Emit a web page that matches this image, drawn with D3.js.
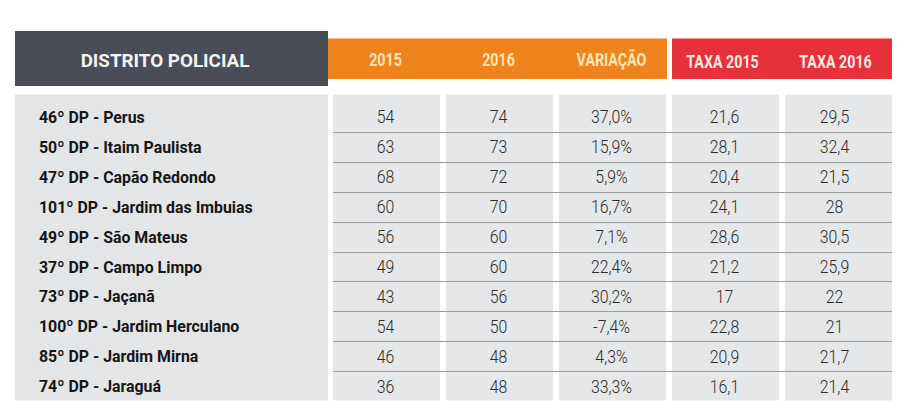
<!DOCTYPE html>
<html>
<head>
<meta charset="utf-8">
<script src="https://cdn.jsdelivr.net/npm/d3@7"></script>
<style>
  html, body { margin: 0; padding: 0; background: #fff; }
  svg { display: block; }
</style>
</head>
<body>
<svg id="chart" width="911" height="409"></svg>
<script>
// ---------- DATA ----------
const districts = [
  "46º DP - Perus",
  "50º DP - Itaim Paulista",
  "47º DP - Capão Redondo",
  "101º DP - Jardim das Imbuias",
  "49º DP - São Mateus",
  "37º DP - Campo Limpo",
  "73º DP - Jaçanã",
  "100º DP - Jardim Herculano",
  "85º DP - Jardim Mirna",
  "74º DP - Jaraguá"
];
const values2015 = [54, 63, 68, 60, 56, 49, 43, 54, 46, 36];
const values2016 = [74, 73, 72, 70, 60, 60, 56, 50, 48, 48];
const variacao   = [37.0, 15.9, 5.9, 16.7, 7.1, 22.4, 30.2, -7.4, 4.3, 33.3];
const taxa2015   = [21.6, 28.1, 20.4, 24.1, 28.6, 21.2, 17, 22.8, 20.9, 16.1];
const taxa2016   = [29.5, 32.4, 21.5, 28, 30.5, 25.9, 22, 21, 21.7, 21.4];
const firstHeader = "DISTRITO POLICIAL";
const columnHeaders = ["2015", "2016", "VARIAÇÃO", "TAXA 2015", "TAXA 2016"];
const columnGroups  = ["orange", "orange", "orange", "red", "red"];

// ---------- FORMATTING ----------
const locale = d3.formatLocale({ decimal: ",", thousands: ".", grouping: [3], currency: ["R$", ""], minus: "-" });
const f1 = locale.format(".1f");
const fmtInt = d => String(d);
const fmtPct = d => f1(d) + "%";
const fmtTaxa = d => (Number.isInteger(d) ? String(d) : f1(d));

const columns = [
  { key: columnHeaders[0], values: values2015, fmt: fmtInt },
  { key: columnHeaders[1], values: values2016, fmt: fmtInt },
  { key: columnHeaders[2], values: variacao,   fmt: fmtPct },
  { key: columnHeaders[3], values: taxa2015,   fmt: fmtTaxa },
  { key: columnHeaders[4], values: taxa2016,   fmt: fmtTaxa }
];

// ---------- STYLE ----------
const C = {
  dark: "#4a4d55",
  orange: "#ef841f",
  red: "#e6313b",
  panel: "#e6e7e9",
  leftPanel: "#e4e5e7",
  rule: "#9c9c9c",
  text: "#161616",
  num: "#2c2c2c",
  orangeText: "#fde6b6",
  redText: "#fde9e4",
  darkText: "#f3f3f3"
};
const FONT = "Roboto, 'Liberation Sans', sans-serif";

// ---------- LAYOUT ----------
const svg = d3.select("#chart");

const x = d3.scaleBand()
  .domain(columnHeaders)
  .range([333, 892])
  .paddingInner(6 / 113)
  .paddingOuter(0);

const y = d3.scaleBand()
  .domain(districts)
  .range([102, 401])
  .padding(0);

const leftX0 = 15, leftX1 = 328;
const panelTop = 94.5, panelBottom = 400.5;

// helper: horizontally condensed text
function ctext(sel, sx) {
  return sel.attr("transform", function () {
    const t = d3.select(this);
    return `translate(${t.attr("data-x")},${t.attr("data-y")}) scale(${sx},1)`;
  });
}

// header blocks
svg.append("rect")
  .attr("x", leftX0).attr("y", 31)
  .attr("width", leftX1 - leftX0).attr("height", 55)
  .attr("fill", C.dark);

const orangeCols = columnHeaders.filter((d, i) => columnGroups[i] === "orange");
const redCols = columnHeaders.filter((d, i) => columnGroups[i] === "red");

svg.append("rect")
  .attr("x", leftX1)
  .attr("y", 38.5)
  .attr("width", x(orangeCols[orangeCols.length - 1]) + x.bandwidth() + 1 - leftX1)
  .attr("height", 40.5)
  .attr("fill", C.orange);

svg.append("rect")
  .attr("x", x(redCols[0]))
  .attr("y", 38.5)
  .attr("width", x(redCols[redCols.length - 1]) + x.bandwidth() - x(redCols[0]))
  .attr("height", 40.5)
  .attr("fill", C.red);

svg.append("text")
  .attr("data-x", 165).attr("data-y", 60)
  .attr("dy", "0.36em")
  .attr("text-anchor", "middle")
  .attr("font-family", FONT)
  .attr("font-weight", "bold")
  .attr("font-size", 19)
  .attr("fill", C.darkText)
  .text(firstHeader)
  .call(ctext, 0.99);

svg.selectAll("text.colhead")
  .data(columnHeaders)
  .join("text")
  .attr("class", "colhead")
  .attr("data-x", (d, i) => x(d) + x.bandwidth() / 2 - (columnGroups[i] === "red" ? 3 : 1))
  .attr("data-y", (d, i) => columnGroups[i] === "red" ? 61 : 59.5)
  .attr("dy", "0.36em")
  .attr("text-anchor", "middle")
  .attr("font-family", FONT)
  .attr("font-weight", "bold")
  .attr("font-size", 18.5)
  .attr("fill", (d, i) => columnGroups[i] === "red" ? C.redText : C.orangeText)
  .text(d => d)
  .call(ctext, 0.77);

// body panels
svg.append("rect")
  .attr("x", leftX0).attr("y", panelTop)
  .attr("width", leftX1 - leftX0).attr("height", panelBottom - panelTop)
  .attr("fill", C.leftPanel);

svg.selectAll("rect.col")
  .data(columnHeaders)
  .join("rect")
  .attr("class", "col")
  .attr("x", d => x(d))
  .attr("y", panelTop)
  .attr("width", x.bandwidth())
  .attr("height", panelBottom - panelTop)
  .attr("fill", C.panel);

// row rules
svg.selectAll("line.rule")
  .data(districts.slice(1))
  .join("line")
  .attr("class", "rule")
  .attr("x1", x.range()[0])
  .attr("x2", x.range()[1])
  .attr("y1", d => Math.round(y(d)) + 0.5)
  .attr("y2", d => Math.round(y(d)) + 0.5)
  .attr("stroke", C.rule)
  .attr("stroke-width", 1);

// row labels
svg.selectAll("text.rowlabel")
  .data(districts)
  .join("text")
  .attr("class", "rowlabel")
  .attr("data-x", 39)
  .attr("data-y", d => y(d) + y.bandwidth() / 2)
  .attr("dy", "0.36em")
  .attr("font-family", FONT)
  .attr("font-weight", "bold")
  .attr("font-size", 17)
  .attr("fill", C.text)
  .text(d => d)
  .call(ctext, 0.935);

// cells
columns.forEach((col, ci) => {
  svg.append("g")
    .selectAll("text")
    .data(col.values)
    .join("text")
    .attr("data-x", x(col.key) + x.bandwidth() / 2 - (ci === 4 ? 4 : 1))
    .attr("data-y", (d, i) => y(districts[i]) + y.bandwidth() / 2)
    .attr("dy", "0.36em")
    .attr("text-anchor", "middle")
    .attr("font-family", FONT)
    .attr("font-weight", 300)
    .attr("font-size", 18)
    .attr("fill", C.num)
    .text(d => col.fmt(d))
    .call(ctext, 0.88);
});
</script>
</body>
</html>
